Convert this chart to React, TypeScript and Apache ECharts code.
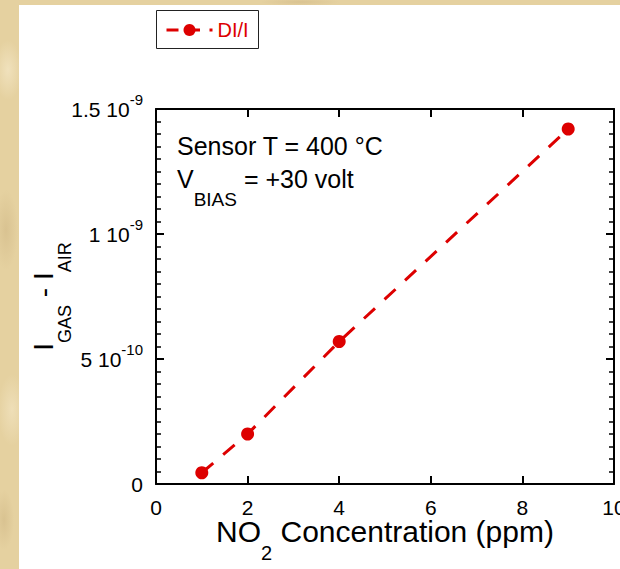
import React, { useEffect, useRef } from "react";
import * as echarts from "echarts";

// NO2 response of the sensor: current difference vs gas concentration
const concentrationPpm = [1, 2, 4, 9];
const currentDelta = [4.5e-11, 2.0e-10, 5.7e-10, 1.42e-9];

// Y tick labels written as "mantissa 10^exponent"
const yTickValues = [0, 5e-10, 1e-9, 1.5e-9];
const yTickMantissas = ["0", "5", "1", "1.5"];
const yTickExponents = ["", "-10", "-9", "-9"];

const seriesName = "DI/I";
const RED = "#dd0000";
const FONT = '"Liberation Sans", Arial, Helvetica, sans-serif';

function yLabel(value: number): string {
  const idx = yTickValues.findIndex((t) => Math.abs(t - value) < 1e-13);
  if (idx < 0) return "";
  if (!yTickExponents[idx]) return `{m|${yTickMantissas[idx]}}`;
  return `{m|${yTickMantissas[idx]} 10}{s|${yTickExponents[idx]}}`;
}

export default function App() {
  const ref = useRef<HTMLDivElement>(null);

  useEffect(() => {
    if (!ref.current) return;
    const chart = echarts.init(ref.current, undefined, { renderer: "svg" });

    const axisLine = { onZero: false, lineStyle: { color: "#000", width: 2 } };
    const axisTick = { inside: true, length: 8, lineStyle: { color: "#000", width: 2 } };
    const minorTick = { show: true, splitNumber: 10, length: 5, lineStyle: { color: "#000", width: 1.5 } };

    chart.setOption({
      animation: false,
      textStyle: { fontFamily: FONT },
      legend: {
        data: [{ name: seriesName }],
        left: 156,
        top: 10,
        padding: [10, 9, 10, 9],
        borderWidth: 0,
        itemWidth: 46,
        itemHeight: 15,
        selectedMode: false,
        lineStyle: { type: [12, 9.5], width: 3 },
        textStyle: { color: RED, fontSize: 20, fontFamily: FONT },
      },
      grid: { left: 156, top: 109, width: 458, height: 375, outerBoundsMode: "none" },
      xAxis: [
        {
          type: "value",
          position: "bottom",
          min: 0,
          max: 10,
          interval: 2,
          axisLine,
          axisTick,
          splitLine: { show: false },
          axisLabel: { fontSize: 21, color: "#000", margin: 13, fontFamily: FONT, showMinLabel: true, showMaxLabel: true },
          name: "{m|NO}{s|2}{m| Concentration (ppm)}",
          nameLocation: "middle",
          nameGap: 36,
          nameMoveOverlap: false,
          nameTextStyle: {
            rich: {
              m: { fontSize: 30, lineHeight: 22, color: "#000", fontFamily: FONT },
              s: { fontSize: 20, lineHeight: 16, color: "#000", fontFamily: FONT, padding: [43, 0, 0, 0] },
            },
          },
        },
        {
          type: "value",
          position: "top",
          min: 0,
          max: 10,
          interval: 2,
          axisLine,
          axisTick,
          splitLine: { show: false },
          axisLabel: { show: false },
        },
      ],
      yAxis: [
        {
          type: "value",
          position: "left",
          min: 0,
          max: 1.5e-9,
          interval: 5e-10,
          axisLine,
          axisTick,
          minorTick,
          splitLine: { show: false },
          axisLabel: {
            margin: 13,
            showMinLabel: true,
            showMaxLabel: true,
            formatter: yLabel,
            rich: {
              m: { fontSize: 21, lineHeight: 21, color: "#000", fontFamily: FONT },
              s: { fontSize: 15, lineHeight: 15, color: "#000", fontFamily: FONT, padding: [0, 0, 19, 0] },
            },
          },
          name: "{m|I}{s|GAS}{m| - I}{s|AIR}",
          nameLocation: "middle",
          nameGap: 99,
          nameMoveOverlap: false,
          nameTextStyle: {
            rich: {
              m: { fontSize: 28, lineHeight: 28, color: "#000", fontFamily: FONT },
              s: { fontSize: 18, lineHeight: 18, color: "#000", fontFamily: FONT, padding: [44, 0, 0, 0] },
            },
          },
        },
        {
          type: "value",
          position: "right",
          min: 0,
          max: 1.5e-9,
          interval: 5e-10,
          axisLine,
          axisTick,
          minorTick,
          splitLine: { show: false },
          axisLabel: { show: false },
        },
      ],
      graphic: [
        // frame around the legend entry
        {
          type: "rect",
          shape: { x: 156.5, y: 10.5, width: 102, height: 38 },
          style: { fill: "none", stroke: "#222", lineWidth: 1 },
          silent: true,
        },
        {
          type: "text",
          x: 177,
          y: 146,
          style: {
            text: "Sensor T = 400 °C",
            fontSize: 25,
            fontFamily: FONT,
            fill: "#000",
            verticalAlign: "middle",
          },
        },
        {
          type: "text",
          x: 177,
          y: 179,
          style: {
            text: "{m|V}{s|BIAS}{m| = +30 volt}",
            verticalAlign: "middle",
            rich: {
              m: { fontSize: 25, lineHeight: 25, fill: "#000", fontFamily: FONT },
              s: { fontSize: 19, lineHeight: 19, fill: "#000", fontFamily: FONT, padding: [40, 0, 0, 0] },
            },
          },
        },
      ],
      series: [
        {
          type: "line",
          name: seriesName,
          xAxisIndex: 0,
          yAxisIndex: 0,
          data: concentrationPpm.map((x, i) => [x, currentDelta[i]]),
          symbol: "circle",
          symbolSize: 13,
          itemStyle: { color: RED },
          lineStyle: { color: RED, width: 3, type: [15, 13] },
          z: 3,
        },
      ],
    });

    return () => chart.dispose();
  }, []);

  return (
    <div
      style={{
        position: "fixed",
        left: 0,
        top: 0,
        width: 620,
        height: 569,
        backgroundColor: "#e5d1a0",
        backgroundImage:
          "radial-gradient(ellipse 14px 30px at 8px 70px, rgba(245,232,200,0.7), transparent)," +
          "radial-gradient(ellipse 12px 40px at 6px 230px, rgba(205,180,130,0.5), transparent)," +
          "radial-gradient(ellipse 14px 36px at 12px 410px, rgba(245,232,200,0.6), transparent)," +
          "radial-gradient(ellipse 10px 30px at 4px 520px, rgba(205,180,130,0.5), transparent)," +
          "radial-gradient(ellipse 40px 4px at 300px 2px, rgba(205,180,130,0.5), transparent)",
      }}
    >
      <div style={{ position: "absolute", left: 19, top: 5, right: 0, bottom: 0, background: "#fff" }} />
      <div ref={ref} style={{ position: "absolute", left: 0, top: 0, width: 620, height: 569 }} />
    </div>
  );
}
